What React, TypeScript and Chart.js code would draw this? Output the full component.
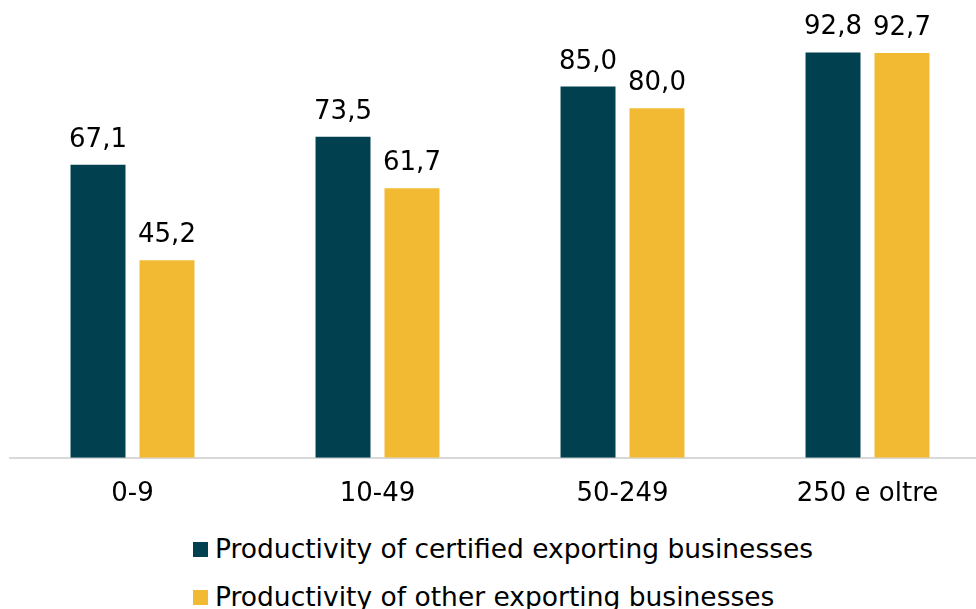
import React, { useEffect, useRef } from "react";
import { Chart, registerables } from "chart.js";

Chart.register(...registerables);

const categories = ["0-9", "10-49", "50-249", "250 e oltre"];
const certified = [67.1, 73.5, 85.0, 92.8];
const other = [45.2, 61.7, 80.0, 92.7];
const seriesNames = [
  "Productivity of certified exporting businesses",
  "Productivity of other exporting businesses",
];
const colors = ["#00404F", "#F2BA32"];
const FONT = "'DejaVu Sans', Verdana, sans-serif";

const valueLabels = {
  id: "valueLabels",
  afterDatasetsDraw(chart: any) {
    const ctx = chart.ctx;
    ctx.save();
    ctx.font = `26px ${FONT}`;
    ctx.fillStyle = "#000";
    ctx.textAlign = "center";
    ctx.textBaseline = "alphabetic";
    chart.data.datasets.forEach((ds: any, di: number) => {
      const meta = chart.getDatasetMeta(di);
      meta.data.forEach((el: any, i: number) => {
        const v = ds.data[i] as number;
        ctx.fillText(v.toFixed(1).replace(".", ","), el.x, el.y - 18);
      });
    });
    ctx.restore();
  },
};

export default function App() {
  const ref = useRef<HTMLCanvasElement>(null);
  useEffect(() => {
    if (!ref.current) return;
    const chart = new Chart(ref.current, {
      type: "bar",
      data: {
        labels: categories,
        datasets: [
          { label: seriesNames[0], data: certified, backgroundColor: colors[0] },
          { label: seriesNames[1], data: other, backgroundColor: colors[1] },
        ],
      },
      options: {
        animation: false,
        responsive: false,
        maintainAspectRatio: false,
        devicePixelRatio: 1,
        layout: { padding: { left: 10, right: 0, top: 21, bottom: 0 } },
        datasets: { bar: { categoryPercentage: 0.563, barPercentage: 0.797 } },
        plugins: { legend: { display: false }, tooltip: { enabled: false } },
        scales: {
          x: {
            grid: { display: false, drawTicks: false },
            border: { display: true, color: "#D9D9D9", width: 2 },
            ticks: { color: "#000", font: { family: FONT, size: 26 }, padding: 21 },
          },
          y: {
            display: false,
            min: 0,
            max: 100,
          },
        },
      },
      plugins: [valueLabels],
    });
    return () => chart.destroy();
  }, []);

  const legendRow = (i: number, top: number) => (
    <div
      key={i}
      style={{ position: "absolute", left: 193, top, height: 26, display: "flex", alignItems: "center" }}
    >
      <div style={{ width: 15, height: 15, background: colors[i], marginRight: 7 }} />
      <span style={{ fontFamily: FONT, fontSize: 26.5, lineHeight: "26px", color: "#000", whiteSpace: "nowrap" }}>
        {seriesNames[i]}
      </span>
    </div>
  );

  return (
    <div
      style={{
        position: "fixed",
        left: 0,
        top: 0,
        width: 976,
        height: 609,
        overflow: "hidden",
        background: "#fff",
      }}
    >
      <canvas ref={ref} width={990} height={531} style={{ position: "absolute", left: 0, top: 0, width: 990, height: 531 }} />
      {legendRow(0, 536)}
      {legendRow(1, 584)}
    </div>
  );
}
